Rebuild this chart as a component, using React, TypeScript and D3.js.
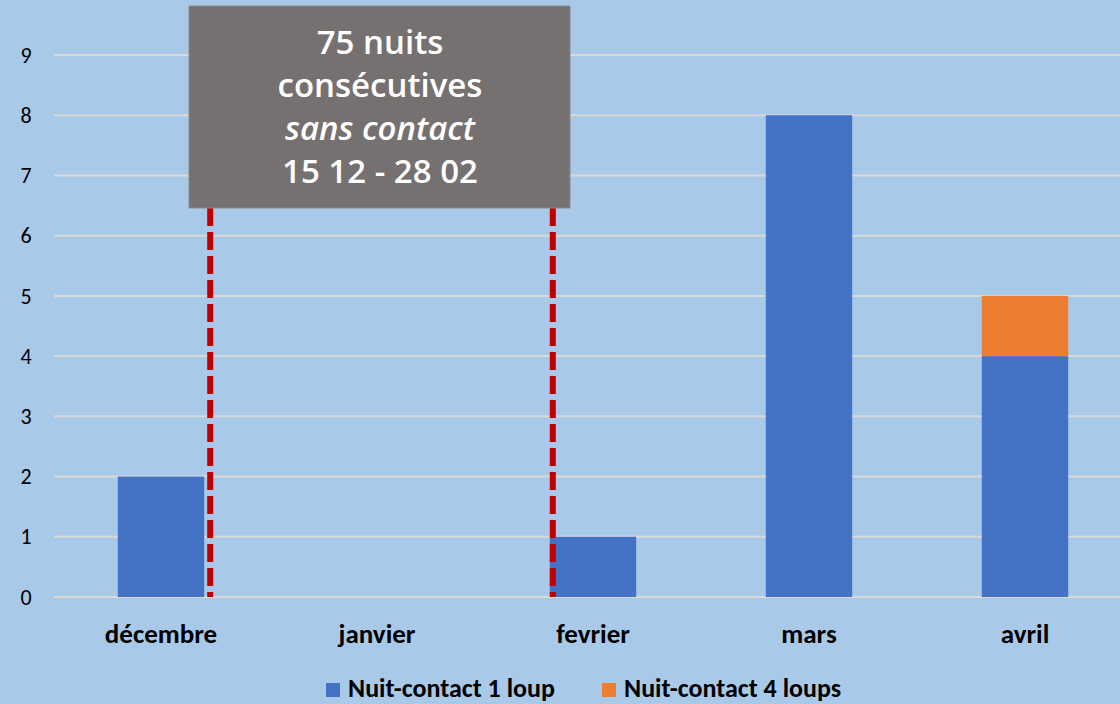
import React from "react";
import * as d3 from "d3";

const categories = ["décembre", "janvier", "fevrier", "mars", "avril"];
const series1Loup = [2, 0, 1, 8, 4];
const series4Loups = [0, 0, 0, 0, 1];
const yTicks = [0, 1, 2, 3, 4, 5, 6, 7, 8, 9];
const seriesNames = ["Nuit-contact 1 loup", "Nuit-contact 4 loups"];
const annotationLines = ["75 nuits", "consécutives", "sans contact", "15 12 - 28 02"];

const W = 1120;
const H = 704;

export default function App() {
  const x = d3.scaleBand<string>().domain(categories).range([53, 1133]).paddingInner(0.6).paddingOuter(0.3);
  const y = d3.scaleLinear().domain([0, 9]).range([597, 55]);
  const bw = x.bandwidth();
  const dashX1 = (x("décembre") as number) + bw + 6;
  const dashX2 = (x("fevrier") as number) + 3;
  const dashTop = 208;
  const font = "Carlito, 'Liberation Sans', 'Open Sans', sans-serif";
  return (
    <svg width={W} height={H} style={{ position: "fixed", left: 0, top: 0, display: "block" }}>
      <rect x={0} y={0} width={W} height={H} fill="#a9c9e8" />
      {yTicks.map((t) => (
        <g key={t}>
          <line x1={54} x2={W} y1={y(t)} y2={y(t)} stroke="#d9d9d9" strokeWidth={2} />
          <text x={26} y={y(t)} dy="0.35em" textAnchor="middle" fontSize={22} fill="#000" fontFamily={font}>
            {t}
          </text>
        </g>
      ))}
      {categories.map((c, i) => (
        <g key={c}>
          {series1Loup[i] > 0 && (
            <rect x={x(c)} y={y(series1Loup[i])} width={bw} height={y(0) - y(series1Loup[i])} fill="#4472c4" />
          )}
          {series4Loups[i] > 0 && (
            <rect
              x={x(c)}
              y={y(series1Loup[i] + series4Loups[i])}
              width={bw}
              height={y(series1Loup[i]) - y(series1Loup[i] + series4Loups[i])}
              fill="#ed7d31"
            />
          )}
          <text
            x={(x(c) as number) + bw / 2}
            y={634}
            dy="0.35em"
            textAnchor="middle"
            fontSize={27}
            fontWeight="bold"
            fill="#000"
            fontFamily={font}
          >
            {c}
          </text>
        </g>
      ))}
      {[dashX1, dashX2].map((dx, i) => (
        <line
          key={i}
          x1={dx}
          x2={dx}
          y1={dashTop}
          y2={y(0)}
          stroke="#c00000"
          strokeWidth={6}
          strokeDasharray="18 6"
        />
      ))}
      <rect x={189} y={6} width={381} height={202} fill="#767171" stroke="#8e8a8a" strokeWidth={1} />
      {annotationLines.map((l, i) => (
        <text
          key={i}
          x={380}
          y={42 + i * 43.3}
          dy="0.35em"
          textAnchor="middle"
          fontSize={33}
          fontWeight={600}
          fill="#ffffff"
          fontStyle={i === 2 ? "italic" : "normal"}
          fontFamily="'Open Sans', 'DejaVu Sans', sans-serif"
        >
          {l}
        </text>
      ))}
      <g>
        <rect x={326} y={683} width={14} height={14} fill="#4472c4" />
        <text x={348} y={688} dy="0.35em" fontSize={26} fontWeight="bold" fontFamily={font} fill="#000">
          {seriesNames[0]}
        </text>
        <rect x={602} y={683} width={14} height={14} fill="#ed7d31" />
        <text x={624} y={688} dy="0.35em" fontSize={26} fontWeight="bold" fontFamily={font} fill="#000">
          {seriesNames[1]}
        </text>
      </g>
    </svg>
  );
}
